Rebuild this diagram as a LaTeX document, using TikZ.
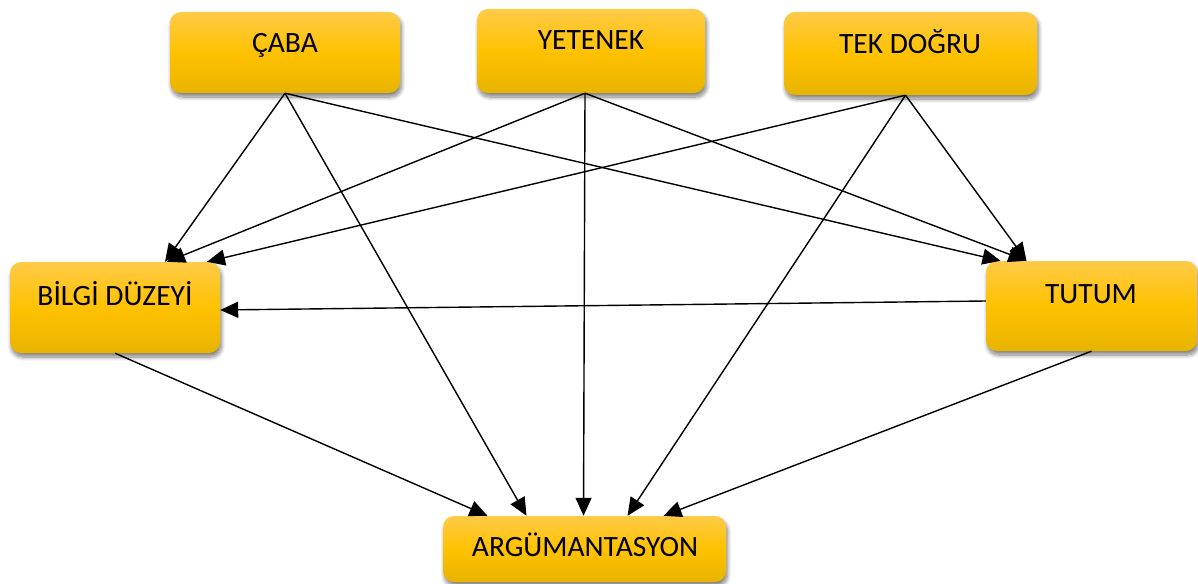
\documentclass[tikz,border=0pt]{standalone}
\usepackage{fontspec}
\setmainfont{Carlito}
\usetikzlibrary{arrows.meta,shadows.blur}
\definecolor{boxtop}{RGB}{255,202,72}
\definecolor{boxmid}{RGB}{255,194,0}
\definecolor{boxbot}{RGB}{232,180,0}
\tikzset{
  box/.style={rectangle, rounded corners=11pt, inner sep=0pt,
    top color=boxtop, bottom color=boxbot, middle color=boxmid,
    blur shadow={shadow xshift=1.5pt, shadow yshift=-4pt, shadow blur steps=10, shadow opacity=50, shadow blur radius=4pt}},
  lab/.style={anchor=base, inner sep=0pt, font=\fontsize{29.5}{31}\selectfont, text=black},
  conn/.style={line width=1.4pt, -{Triangle[length=18pt,width=16pt]}}
}
\begin{document}
\begin{tikzpicture}[x=1pt,y=-1pt]
\useasboundingbox (0,0) rectangle (1198,583);
% boxes
\node[box, minimum width=230pt, minimum height=81pt] (caba) at (285,52.5) {};
\node[box, minimum width=228pt, minimum height=84pt] (yetenek) at (591,51) {};
\node[box, minimum width=253pt, minimum height=83pt] (tek) at (910.5,53.5) {};
\node[box, minimum width=210pt, minimum height=91pt] (bilgi) at (115,307.5) {};
\node[box, minimum width=211pt, minimum height=90pt] (tutum) at (1091.5,306) {};
\node[box, minimum width=283pt, minimum height=66pt] (arg) at (584.5,549) {};
% labels
\node[lab] (cabal) at (285,53) {ÇABA};
\node[lab] (yetenekl) at (591,50) {YETENEK};
\node[lab] (tekl) at (910,54) {TEK DOĞRU};
\node[lab] (bilgil) at (115,305) {BİLGİ DÜZEYİ};
\node[lab] (tutuml) at (1091,303) {TUTUM};
\node[lab] (argl) at (585,556) {ARGÜMANTASYON};
% connectors
\draw[conn] (caba.south) -- ([xshift=50pt]bilgi.north);
\draw[conn] (caba.south) -- ([xshift=-58pt]arg.north);
\draw[conn] (caba.south) -- ([xshift=-91pt]tutum.north);
\draw[conn] ([xshift=-6pt]yetenek.south) -- ([xshift=52pt]bilgi.north);
\draw[conn] ([xshift=-6pt]yetenek.south) -- ([xshift=-1pt]arg.north);
\draw[conn] ([xshift=-6pt]yetenek.south) -- ([xshift=-65pt]tutum.north);
\draw[conn] ([xshift=-5pt]tek.south) -- ([xshift=92pt]bilgi.north);
\draw[conn] ([xshift=-5pt]tek.south) -- ([xshift=43pt]arg.north);
\draw[conn] ([xshift=-5pt]tek.south) -- ([xshift=-65pt]tutum.north);
\draw[conn] ([yshift=5pt]tutum.west) -- ([yshift=-2.5pt]bilgi.east);
\draw[conn] (bilgi.south) -- ([xshift=-97pt]arg.north);
\draw[conn] (tutum.south) -- ([xshift=79pt]arg.north);
\end{tikzpicture}
\end{document}
